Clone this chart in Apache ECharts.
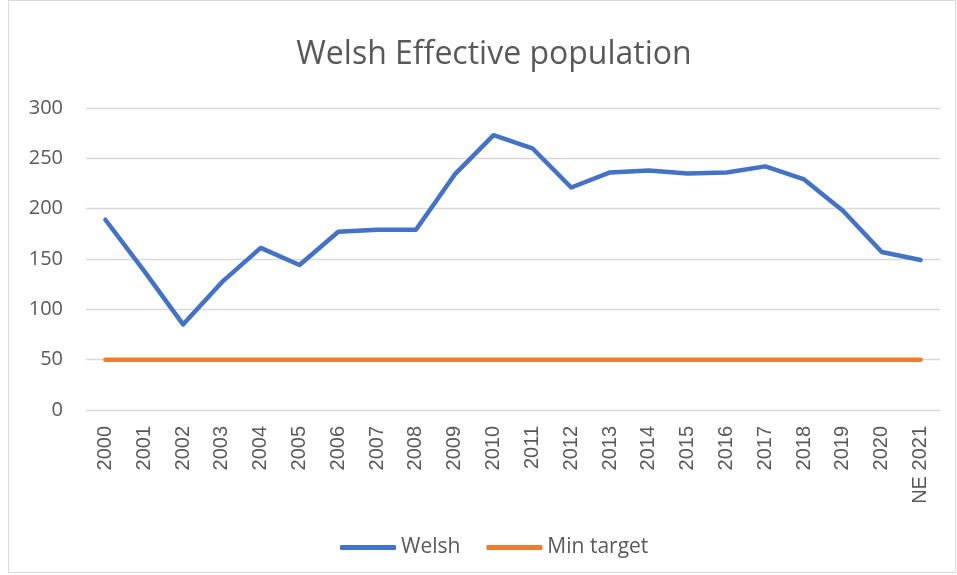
<!DOCTYPE html>
<html><head><meta charset="utf-8">
<script src="https://cdn.jsdelivr.net/npm/echarts@6/dist/echarts.min.js"></script>
<style>html,body{margin:0;padding:0;background:#fff}#c{width:957px;height:575px}</style>
</head><body><div id="c"></div>
<script>
const categories = ['2000','2001','2002','2003','2004','2005','2006','2007','2008','2009','2010','2011','2012','2013','2014','2015','2016','2017','2018','2019','2020','NE 2021'];
const welsh = [189,138,85,127,161,144,177,179,179,234,273,260,221,236,238,235,236,242,229,198,157,149];
const minTarget = [50,50,50,50,50,50,50,50,50,50,50,50,50,50,50,50,50,50,50,50,50,50];
const yTicks = [0,50,100,150,200,250,300];

const chart = echarts.init(document.getElementById('c'));
chart.setOption({
  animation: false,
  textStyle: {fontFamily: 'Open Sans'},
  title: {text: 'Welsh Effective population', left: 489, textAlign: 'center', top: 34,
    textStyle: {fontSize: 32, fontWeight: 'normal', color: '#595959', fontFamily: 'Open Sans'}},
  graphic: [{type: 'rect', shape: {x: 8.5, y: 0.5, width: 947, height: 572}, style: {fill: 'none', stroke: '#d9d9d9', lineWidth: 1}, silent: true}],
  legend: {top: 532, left: 335, itemWidth: 56, itemHeight: 5, itemGap: 26,
    icon: 'roundRect',
    textStyle: {fontSize: 21, color: '#595959', padding: [0,0,0,0]},
    data: ['Welsh','Min target']},
  grid: {left: 86, right: 17, top: 108, bottom: 165, containLabel: false},
  xAxis: {type: 'category', data: categories, boundaryGap: true,
    axisLine: {show: true, lineStyle: {color: '#d9d9d9'}}, axisTick: {show: false},
    axisLabel: {rotate: 90, fontSize: 20, color: '#595959', margin: 16, fontFamily: 'Liberation Sans'}},
  yAxis: {type: 'value', min: yTicks[0], max: yTicks[yTicks.length-1], interval: 50,
    axisLine: {show: false}, axisTick: {show: false},
    splitLine: {lineStyle: {color: '#d9d9d9', width: 1.3}},
    axisLabel: {fontSize: 20, color: '#595959', margin: 23}},
  series: [
    {name: 'Welsh', type: 'line', data: welsh, symbol: 'none', lineStyle: {color: '#4472C4', width: 4.5, cap: 'round', join: 'round'}, itemStyle: {color: '#4472C4'}},
    {name: 'Min target', type: 'line', data: minTarget, symbol: 'none', lineStyle: {color: '#ED7D31', width: 4.5, cap: 'round'}, itemStyle: {color: '#ED7D31'}}
  ]
});
</script></body></html>
